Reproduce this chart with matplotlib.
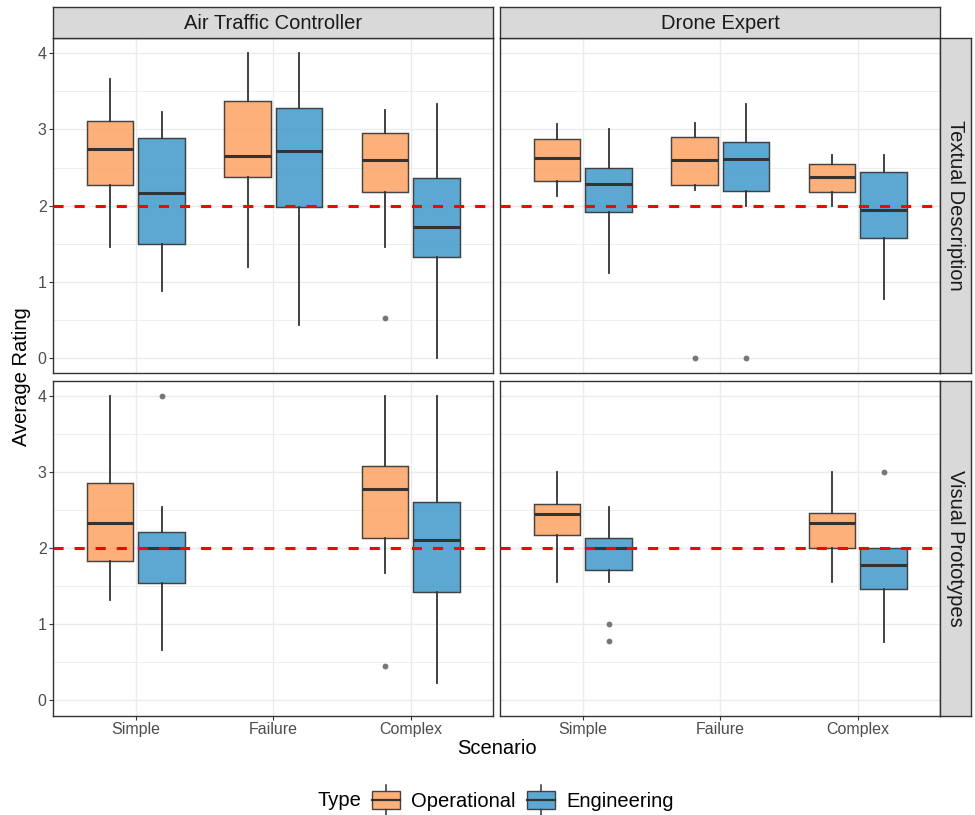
import matplotlib
matplotlib.use("Agg")
import matplotlib.pyplot as plt
from matplotlib.patches import Rectangle, Patch
from matplotlib.lines import Line2D
from matplotlib.legend_handler import HandlerBase

plt.rcParams['font.family'] = ['Liberation Sans', 'DejaVu Sans']

# ---------------- data ----------------
roles = ["Air Traffic Controller", "Drone Expert"]
presentations = ["Textual Description", "Visual Prototypes"]
scenarios = ["Simple", "Failure", "Complex"]
types = ["Operational", "Engineering"]
threshold = 2.0

# five-number summaries per scenario: (whisker low, Q1, median, Q3, whisker high)
ATC_TEXT_OP = [(1.46, 2.27, 2.74, 3.11, 3.66), (1.20, 2.38, 2.65, 3.37, 4.00), (1.46, 2.18, 2.60, 2.95, 3.26)]
ATC_TEXT_ENG = [(0.88, 1.50, 2.17, 2.89, 3.23), (0.44, 1.98, 2.72, 3.28, 4.00), (0.00, 1.33, 1.72, 2.36, 3.33)]
ATC_TEXT_OP_OUT = [[], [], [0.53]]
ATC_TEXT_ENG_OUT = [[], [], []]

DRONE_TEXT_OP = [(2.13, 2.33, 2.63, 2.87, 3.07), (2.20, 2.27, 2.60, 2.90, 3.09), (2.00, 2.18, 2.37, 2.55, 2.66)]
DRONE_TEXT_ENG = [(1.11, 1.92, 2.28, 2.50, 3.00), (2.00, 2.19, 2.61, 2.83, 3.33), (0.78, 1.58, 1.94, 2.44, 2.66)]
DRONE_TEXT_OP_OUT = [[], [0.0], []]
DRONE_TEXT_ENG_OUT = [[], [0.0], []]

ATC_VIS_OP = [(1.32, 1.83, 2.33, 2.86, 4.00), None, (1.67, 2.14, 2.78, 3.08, 4.00)]
ATC_VIS_ENG = [(0.67, 1.55, 2.00, 2.22, 2.55), None, (0.23, 1.42, 2.11, 2.61, 4.00)]
ATC_VIS_OP_OUT = [[], [], [0.45]]
ATC_VIS_ENG_OUT = [[4.0], [], []]

DRONE_VIS_OP = [(1.56, 2.17, 2.45, 2.58, 3.00), None, (1.56, 2.00, 2.33, 2.47, 3.00)]
DRONE_VIS_ENG = [(1.56, 1.72, 2.00, 2.14, 2.55), None, (0.77, 1.47, 1.78, 2.00, 2.00)]
DRONE_VIS_OP_OUT = [[], [], []]
DRONE_VIS_ENG_OUT = [[1.0, 0.78], [], [3.0]]

panels = {
    (0, 0): (ATC_TEXT_OP, ATC_TEXT_ENG, ATC_TEXT_OP_OUT, ATC_TEXT_ENG_OUT),
    (0, 1): (DRONE_TEXT_OP, DRONE_TEXT_ENG, DRONE_TEXT_OP_OUT, DRONE_TEXT_ENG_OUT),
    (1, 0): (ATC_VIS_OP, ATC_VIS_ENG, ATC_VIS_OP_OUT, ATC_VIS_ENG_OUT),
    (1, 1): (DRONE_VIS_OP, DRONE_VIS_ENG, DRONE_VIS_OP_OUT, DRONE_VIS_ENG_OUT),
}

# ---------------- style ----------------
W, H = 975, 815
FILL = {"Operational": (253/255, 162/255, 99/255, 0.85),
        "Engineering": (64/255, 153/255, 203/255, 0.85)}
EDGE = (0.2, 0.2, 0.2, 0.9)
DARK = '#333333'
GRID = '#EBEBEB'

fig = plt.figure(figsize=(W/100, H/100), dpi=100)


def px_axes(x0, y0, x1, y1):
    return fig.add_axes([x0/W, 1 - y1/H, (x1 - x0)/W, (y1 - y0)/H])


col_x = [(53.3, 493.3), (500.3, 940.3)]
row_y = [(38.0, 373.3), (381.0, 715.7)]
dodge = 0.1875
bw = 0.3375

for (r, c), (op, eng, op_out, eng_out) in panels.items():
    x0, x1 = col_x[c]
    y0, y1 = row_y[r]
    ax = px_axes(x0, y0, x1, y1)
    ax.set_xlim(0.4, 3.6)
    ax.set_ylim(-0.2, 4.2)
    ax.set_axisbelow(True)
    ax.set_yticks([0, 1, 2, 3, 4])
    ax.set_yticks([0.5, 1.5, 2.5, 3.5], minor=True)
    ax.set_xticks([1, 2, 3])
    ax.grid(which='major', color=GRID, lw=1.0, zorder=0)
    ax.grid(which='minor', axis='y', color=GRID, lw=0.55, zorder=0)
    ax.tick_params(which='minor', length=0)
    ax.tick_params(which='major', direction='out', length=2.75, width=0.8,
                   color=DARK, labelcolor='#4D4D4D', labelsize=11.5, pad=2)
    if c == 0:
        ax.set_yticklabels(["0", "1", "2", "3", "4"])
    else:
        ax.tick_params(axis='y', length=0, labelleft=False)
    if r == 1:
        ax.set_xticklabels(scenarios)
    else:
        ax.tick_params(axis='x', length=0, labelbottom=False)
    for s in ax.spines.values():
        s.set_color(DARK)
        s.set_linewidth(1.0)

    for series, outs, t, off in ((op, op_out, "Operational", -dodge),
                                 (eng, eng_out, "Engineering", dodge)):
        stats, pos = [], []
        for i, summ in enumerate(series):
            if summ is None:
                continue
            lo, q1, med, q3, hi = summ
            stats.append(dict(whislo=lo, q1=q1, med=med, q3=q3, whishi=hi,
                              fliers=outs[i]))
            pos.append(i + 1 + off)
        ax.bxp(stats, positions=pos, widths=bw, patch_artist=True,
               showcaps=False, manage_ticks=False,
               boxprops=dict(facecolor=FILL[t], edgecolor=EDGE, linewidth=1.05),
               medianprops=dict(color=DARK, linewidth=2.2, solid_capstyle='butt'),
               whiskerprops=dict(color=DARK, linewidth=1.3),
               flierprops=dict(marker='o', markerfacecolor='#777777',
                               markeredgecolor='none', markersize=4.2),
               zorder=2)

    ax.axhline(threshold, color='red', lw=2.2, linestyle=(0, (3.3, 3.6)), zorder=4)

# strips on top
for c in range(2):
    x0, x1 = col_x[c]
    sax = px_axes(x0, 7.3, x1, 38.0)
    sax.set_facecolor('#D9D9D9')
    sax.set_xticks([]); sax.set_yticks([])
    for s in sax.spines.values():
        s.set_color(DARK); s.set_linewidth(1.0)
    sax.text(0.5, 0.47, roles[c], transform=sax.transAxes, ha='center', va='center',
             fontsize=14.5, color='#1A1A1A')

# strips on right
for r in range(2):
    y0, y1 = row_y[r]
    sax = px_axes(940.3, y0, 971.3, y1)
    sax.set_facecolor('#D9D9D9')
    sax.set_xticks([]); sax.set_yticks([])
    for s in sax.spines.values():
        s.set_color(DARK); s.set_linewidth(1.0)
    sax.text(0.5, 0.5, presentations[r], transform=sax.transAxes, ha='center',
             va='center', rotation=-90, fontsize=14.5, color='#1A1A1A')

# axis titles
fig.text(22/W, 1 - 377/H, "Average Rating", rotation=90, ha='center', va='center',
         fontsize=14.5, color='black')
fig.text(497/W, 1 - 748/H, "Scenario", ha='center', va='center',
         fontsize=14.5, color='black')


# legend with box-plot keys (sizes in points)
class BoxKeyHandler(HandlerBase):
    def create_artists(self, legend, orig_handle, xdescent, ydescent, width,
                       height, fontsize, trans):
        fc = orig_handle.get_facecolor()
        x0, y0 = -xdescent, -ydescent
        xm = x0 + width / 2
        yc = y0 + height / 2
        bh = 6.7   # half box height
        wh = 10.8  # whisker reach
        wb = Line2D([xm, xm], [yc - wh, yc - bh], color=DARK, lw=1.1,
                    transform=trans)
        wt = Line2D([xm, xm], [yc + bh, yc + wh], color=DARK, lw=1.1,
                    transform=trans)
        rect = Rectangle((x0, yc - bh), width, 2 * bh, facecolor=fc,
                         edgecolor=EDGE, lw=1.0, transform=trans)
        med = Line2D([x0, x0 + width], [yc, yc], color=DARK, lw=1.6,
                     transform=trans)
        return [wb, wt, rect, med]


handles = [Patch(facecolor=FILL[t]) for t in types]
fig.text(318/W, 1 - 800/H, "Type", ha='left', va='center', fontsize=14.5,
         color='black')
fig.legend(handles, types, handler_map={Patch: BoxKeyHandler()},
           loc='center left', bbox_to_anchor=(372/W, 1 - 800/H), ncol=2,
           frameon=False, fontsize=14.5, handlelength=1.4, handleheight=1.45,
           handletextpad=0.55, columnspacing=0.55, borderpad=0, borderaxespad=0)

fig.savefig("out.png", dpi=100)
